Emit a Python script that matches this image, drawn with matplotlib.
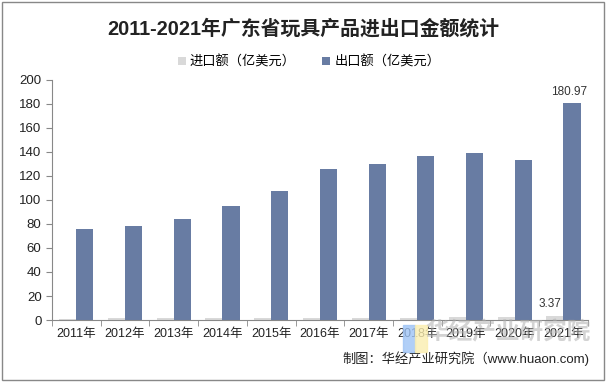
import numpy as np
import matplotlib
matplotlib.use("Agg")
import matplotlib.pyplot as plt
from matplotlib.patches import Rectangle

# data
years = ["2011年", "2012年", "2013年", "2014年", "2015年", "2016年",
         "2017年", "2018年", "2019年", "2020年", "2021年"]
imports = [1.0, 1.8, 1.8, 1.8, 1.8, 1.8, 1.9, 1.9, 2.9, 2.9, 3.37]
exports = [75.8, 78.2, 84.0, 95.0, 107.5, 126.0, 130.0, 137.0, 139.0, 133.0, 180.97]
yticks = list(range(0, 201, 20))

fonts = ["Liberation Sans", "Noto Sans CJK SC"]
plt.rcParams["font.family"] = fonts

fig = plt.figure(figsize=(6.06, 3.82), dpi=100)
ax = fig.add_axes([0.0858, 0.1623, 0.8842, 0.6283])

x = np.arange(len(years))
w = 0.35
ax.bar(x - w / 2, imports, w, color="#d9d9d9", label="进口额（亿美元）")
ax.bar(x + w / 2, exports, w, color="#687ca3", label="出口额（亿美元）")

# labels on last year only
ax.text(x[-1] - 0.28, imports[-1] + 5, f"{imports[-1]:.2f}", ha="center",
        va="bottom", fontsize=8.5, color="#333333")
ax.text(x[-1] + w / 2 - 0.05, exports[-1] + 4, f"{exports[-1]:.2f}", ha="center",
        va="bottom", fontsize=8.5, color="#333333")

ax.set_xlim(-0.5, len(years) - 0.5)
ax.set_ylim(0, 200)
ax.set_yticks(yticks)
ax.set_xticks(x)
ax.set_xticklabels(years, fontsize=9, color="#222222")
ax.set_xticks(np.arange(-0.5, len(years), 1), minor=True)
ax.tick_params(axis="x", which="major", length=0, pad=6)
ax.tick_params(axis="x", which="minor", length=4, color="#888888")
ax.tick_params(axis="y", length=4, color="#888888", labelsize=9.5, labelcolor="#222222")
for s in ["top", "right"]:
    ax.spines[s].set_visible(False)
for s in ["left", "bottom"]:
    ax.spines[s].set_color("#888888")

fig.text(0.5, 0.926, "2011-2021年广东省玩具产品进出口金额统计", ha="center", va="center",
         fontsize=14.3, fontweight="bold", color="#222222", family=fonts)

fig.legend(loc="center", bbox_to_anchor=(0.51, 0.838), ncol=2, frameon=False,
           fontsize=9.5, handlelength=0.6, handleheight=0.6, columnspacing=2.0,
           handletextpad=0.3)

# watermark
fig.patches.append(Rectangle((403 / 606, 1 - 352 / 382), 12 / 606, 27 / 382,
                             transform=fig.transFigure, color="#9ec3f5", alpha=0.8, zorder=5))
fig.patches.append(Rectangle((415 / 606, 1 - 352 / 382), 12 / 606, 27 / 382,
                             transform=fig.transFigure, color="#fbeeb0", alpha=0.8, zorder=5))
fig.text(0.975, 0.13, "华经产业研究院", ha="right", va="center", fontsize=17,
         fontweight="bold", color="#b0b0b0", alpha=0.55, zorder=6, family=fonts)

fig.text(0.972, 0.062, "制图：华经产业研究院（www.huaon.com)", ha="right", va="center",
         fontsize=9.5, color="#222222", family=fonts)

# outer frame
fig.patches.append(Rectangle((0.003, 0.004), 0.994, 0.99, transform=fig.transFigure,
                             fill=False, edgecolor="#888888", linewidth=1))

fig.savefig("out.png", dpi=100)
